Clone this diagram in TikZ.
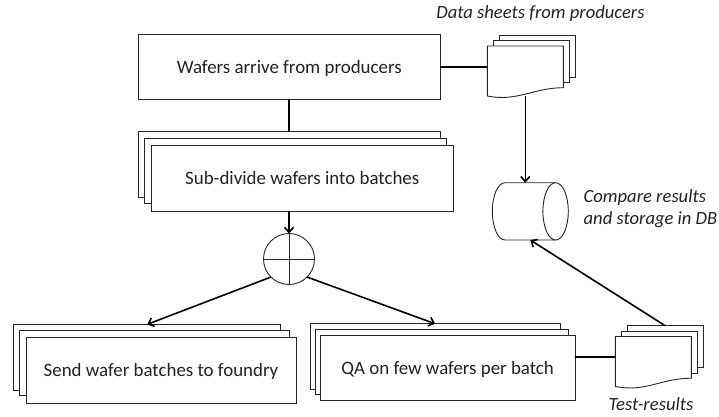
\documentclass[tikz,border=0pt]{standalone}
\usepackage{fontspec}
\setmainfont{Carlito}
\usepackage{xcolor}
\usetikzlibrary{calc,arrows.meta}
\definecolor{inkline}{HTML}{262626}
\definecolor{inktext}{HTML}{222222}
\tikzset{
    flowbox/.style={draw=inkline, fill=white, line width=0.9pt, inner sep=0pt, outer sep=0pt, text=inktext, text depth=0pt, font=\fontsize{18.9}{22}\selectfont},
    sheet/.style={flowbox, minimum width=76pt, minimum height=42pt},
    sheetfront/.style={inner sep=0pt, outer sep=0pt, minimum width=76pt, minimum height=50pt},
    drum/.style={inner sep=0pt, outer sep=0pt, minimum width=76pt, minimum height=57.3pt},
    note/.style={text=inktext, font=\fontsize{18.6}{22}\selectfont\itshape, inner sep=0pt},
    link/.style={line width=1.6pt, black},
}
% front page of a stack of sheets, wavy lower edge
\newcommand{\sheetedge}[1]{
    \draw[flowbox] (#1.south west) -- (#1.north west) -- (#1.north east) -- ($(#1.south east)+(0,-8.3)$)
        .. controls ($(#1.south east)+(-30,-8.3)$) and ($(#1.south west)+(30,6)$) .. (#1.south west);
}
% horizontal drum, open end to the right
\newcommand{\drumedge}[1]{
    \draw[flowbox] ($(#1.north west)+(12.7,0)$) arc[start angle=90, end angle=270, x radius=12.7pt, y radius=28.65pt]
        -- ($(#1.south east)+(-12.7,0)$) arc[start angle=-90, end angle=90, x radius=12.7pt, y radius=28.65pt] -- cycle;
    \draw[flowbox, fill=none] ($(#1.north east)+(-12.7,0)$) arc[start angle=90, end angle=270, x radius=12.7pt, y radius=28.65pt];
}
\begin{document}
\begin{tikzpicture}[x=1pt,y=-1pt,>={Straight Barb[length=5pt,width=9pt]}]
    \useasboundingbox (0,0) rectangle (719,416);
    \node[flowbox, minimum width=301.5pt, minimum height=65.5pt] (arrive) at (289.25,66.75) {Wafers arrive from producers};
    % sub-divide stack
    \node[flowbox, minimum width=301.5pt, minimum height=65.5pt] (divideback) at (289.25,164.25) {};
    \node[flowbox, minimum width=301.5pt, minimum height=65.5pt] (dividemid) at (295.25,171) {};
    \node[flowbox, minimum width=301.5pt, minimum height=65.5pt] (divide) at (302.25,178.25) {Sub-divide wafers into batches};
    \node[flowbox, circle, minimum size=51pt] (split) at (289,259) {};
    \draw[inkline, line width=0.9pt] (split.north) -- (split.south);
    \draw[inkline, line width=0.9pt] (split.west) -- (split.east);
    % foundry stack
    \node[flowbox, minimum width=267pt, minimum height=65.7pt] (sendback) at (147.2,357.2) {};
    \node[flowbox, minimum width=270.5pt, minimum height=65.7pt] (sendmid) at (154.25,363) {};
    \node[flowbox, minimum width=270pt, minimum height=65.7pt] (send) at (161,370.2) {Send wafer batches to foundry};
    % QA stack
    \node[flowbox, minimum width=249.7pt, minimum height=65.3pt] (qaback) at (435.15,356.4) {};
    \node[flowbox, minimum width=253pt, minimum height=65.3pt] (qamid) at (441.8,362.2) {};
    \node[flowbox, minimum width=254.7pt, minimum height=65.3pt] (qa) at (447.65,367.65) {QA on few wafers per batch};
    % data sheets
    \node[sheet] (databack) at (537.3,56.3) {};
    \node[sheet] (datamid) at (531.3,61.7) {};
    \node[sheetfront] (data) at (525.3,71) {};
    \sheetedge{data}
    % test sheets
    \node[sheet] (testback) at (665.3,346.8) {};
    \node[sheet] (testmid) at (659.3,352.3) {};
    \node[sheetfront] (test) at (653.3,361.5) {};
    \sheetedge{test}
    \node[drum] (store) at (530.3,211.35) {};
    \drumedge{store}
    \node[note] (datalabel) at (540.5,14) {Data sheets from producers};
    \node[note, align=left] (storelabel) at (650.5,209) {Compare results\\and storage in DB};
    \node[note] (testlabel) at (651,404) {Test-results};
    \coordinate (testjoin) at ($(test.west)+(0,-4.5)$);
    \draw[link] (arrive) -- (arrive -| data.west);
    \draw[link] (arrive) -- (divideback);
    \draw[link, ->] (divide.south -| split) -- (split.north);
    \draw[link, ->] (split.225) -- (sendback.north);
    \draw[link, ->] (split.-45) -- (qaback.north);
    \draw[link, ->] (data.south) -- (data.south |- store.north);
    \draw[link, ->] (testback.north) -- (store.south);
    \draw[link] (testjoin -| qa.east) -- (testjoin);
\end{tikzpicture}
\end{document}
